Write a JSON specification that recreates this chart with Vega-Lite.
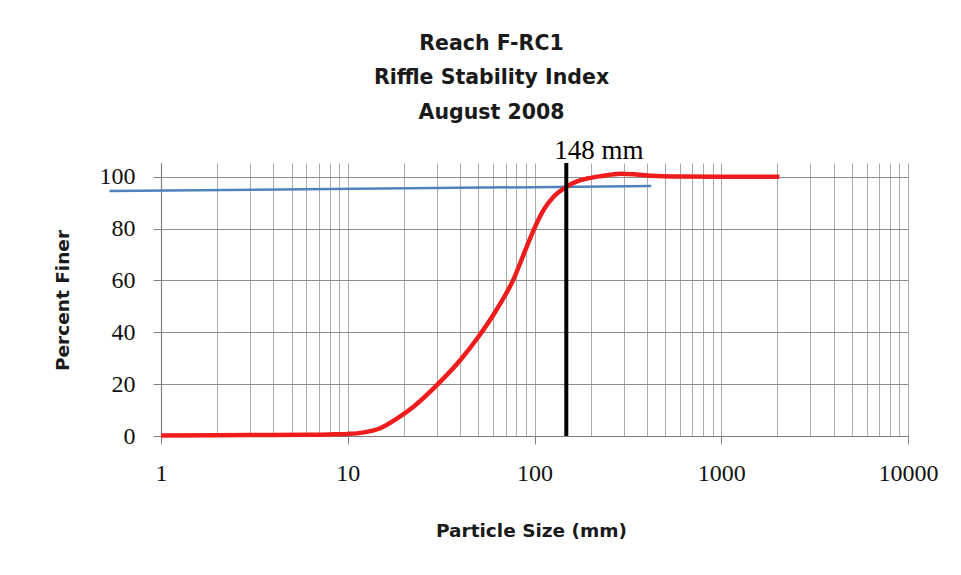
{
  "$schema": "https://vega.github.io/schema/vega-lite/v6.json",
  "autosize": "none",
  "width": 747,
  "height": 273,
  "padding": {"left": 161, "top": 163, "right": 53, "bottom": 139},
  "background": "white",
  "config": {"view": {"stroke": null}},
  "title": {
    "text": ["Reach F-RC1", "Riffle Stability  Index", "August  2008"],
    "font": "DejaVu Sans",
    "fontWeight": "bold",
    "fontSize": 20.5,
    "lineHeight": 34.5,
    "color": "#1a1a1a",
    "anchor": "middle",
    "dx": -43,
    "offset": 14
  },
  "datasets": {
    "red": [
      {"size": 1, "pct": 0.2},
      {"size": 2, "pct": 0.3},
      {"size": 4, "pct": 0.4},
      {"size": 6, "pct": 0.5},
      {"size": 8, "pct": 0.6},
      {"size": 10, "pct": 0.8},
      {"size": 12, "pct": 1.3},
      {"size": 14.9, "pct": 3.0},
      {"size": 18.4, "pct": 6.8},
      {"size": 22.5, "pct": 11.3},
      {"size": 30.1, "pct": 19.7},
      {"size": 40.1, "pct": 29.3},
      {"size": 49.2, "pct": 37.5},
      {"size": 63, "pct": 49.0},
      {"size": 77.3, "pct": 60.5},
      {"size": 88, "pct": 70.5},
      {"size": 98.9, "pct": 79.4},
      {"size": 111.9, "pct": 87.2},
      {"size": 126.5, "pct": 92.3},
      {"size": 148, "pct": 96.1},
      {"size": 170, "pct": 98.3},
      {"size": 191, "pct": 99.3},
      {"size": 230, "pct": 100.3},
      {"size": 288, "pct": 101.2},
      {"size": 350, "pct": 100.9},
      {"size": 420, "pct": 100.4},
      {"size": 600, "pct": 100.1},
      {"size": 1000, "pct": 100},
      {"size": 2048, "pct": 100}
    ],
    "blue": [
      {"size": 0.53, "pct": 94.5},
      {"size": 422, "pct": 96.4}
    ],
    "marker": [
      {"size": 148, "label": "148 mm"}
    ]
  },
  "layer": [
    {
      "data": {"name": "blue"},
      "mark": {"type": "line", "color": "#4f81bd", "strokeWidth": 2.5, "clip": false},
      "encoding": {
        "x": {
          "field": "size",
          "type": "quantitative",
          "scale": {"type": "log", "domain": [1, 10000]},
          "axis": {
            "values": [1,2,3,4,5,6,7,8,9,10,20,30,40,50,60,70,80,90,100,200,300,400,500,600,700,800,900,1000,2000,3000,4000,5000,6000,7000,8000,9000,10000],
            "labelExpr": "indexof([1,10,100,1000,10000], datum.value) >= 0 ? datum.value : ''",
            "grid": true,
            "gridColor": "#ababab",
            "gridWidth": 1,
            "domainColor": "#808080",
            "domainWidth": 1.2,
            "tickColor": "#808080",
            "tickSize": {"condition": {"test": "indexof([1,10,100,1000,10000], datum.value) >= 0", "value": 8}, "value": 0},
            "labelFont": "Liberation Serif",
            "labelFontSize": 24,
            "labelColor": "#111111",
            "labelPadding": 17,
            "labelFlush": false,
            "title": "Particle Size (mm)",
            "titleFont": "DejaVu Sans",
            "titleFontWeight": "bold",
            "titleFontSize": 18.5,
            "titleColor": "#1a1a1a",
            "titleX": 370,
            "titleY": 94,
            "titleBaseline": "middle"
          }
        },
        "y": {
          "field": "pct",
          "type": "quantitative",
          "scale": {"domain": [0, 105.3], "nice": false},
          "axis": {
            "values": [0,10,20,30,40,50,60,70,80,90,100],
            "labelExpr": "datum.value % 20 == 0 ? datum.value : ''",
            "grid": true,
            "gridColor": "#8c8c8c",
            "gridWidth": 1.2,
            "gridOpacity": {"condition": {"test": "datum.value % 20 == 0", "value": 1}, "value": 0},
            "domainColor": "#808080",
            "domainWidth": 1.2,
            "tickColor": "#808080",
            "tickSize": {"condition": {"test": "datum.value % 20 == 0", "value": 8}, "value": -7},
            "labelFont": "Liberation Serif",
            "labelFontSize": 24,
            "labelColor": "#111111",
            "labelPadding": 18,
            "labelFlush": false,
            "title": "Percent Finer",
            "titleFont": "DejaVu Sans",
            "titleFontWeight": "bold",
            "titleFontSize": 18.5,
            "titleColor": "#1a1a1a",
            "titleX": -99,
            "titleY": 137,
            "titleAngle": -90,
            "titleBaseline": "middle"
          }
        }
      }
    },
    {
      "data": {"name": "red"},
      "mark": {"type": "line", "color": "#ee1c1c", "strokeWidth": 4.5, "interpolate": "monotone"},
      "encoding": {
        "x": {"field": "size", "type": "quantitative"},
        "y": {"field": "pct", "type": "quantitative"}
      }
    },
    {
      "data": {"name": "marker"},
      "mark": {"type": "rule", "color": "#000000", "strokeWidth": 4},
      "encoding": {
        "x": {"field": "size", "type": "quantitative"}
      }
    },
    {
      "data": {"name": "marker"},
      "mark": {"type": "text", "font": "Liberation Serif", "fontSize": 27, "align": "left", "baseline": "alphabetic", "dx": -12, "dy": -4, "color": "#000000"},
      "encoding": {
        "x": {"field": "size", "type": "quantitative"},
        "y": {"datum": 105.3, "type": "quantitative"},
        "text": {"field": "label"}
      }
    }
  ]
}
